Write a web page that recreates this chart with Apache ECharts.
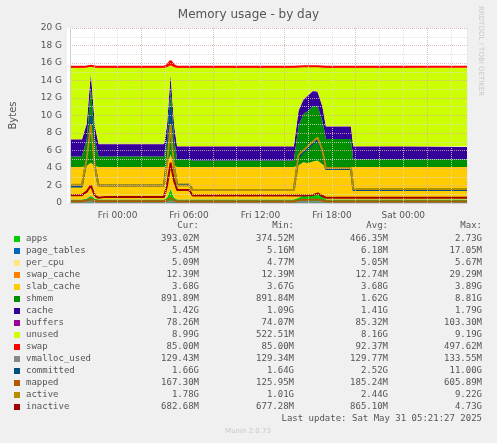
<!DOCTYPE html>
<html>
<head>
<meta charset="utf-8">
<script src="https://cdn.jsdelivr.net/npm/echarts@6/dist/echarts.min.js"></script>
<style>
  html, body { margin: 0; padding: 0; background: #f0f0f0; }
  #chart { width: 497px; height: 443px; }
</style>
</head>
<body>
<div id="chart"></div>
<script>
// hours since Thu 29 May 00:00
var hours = [20, 21.0, 21.4, 21.75, 22.1, 22.4, 23, 27.9, 28.15, 28.45, 28.75, 29.0, 29.5, 30, 30.3, 36, 38.8, 39.2, 39.6, 40, 40.4, 40.8, 41.2, 41.5, 41.7, 43.6, 43.8, 48, 53.35];

// stacked areas, in G
var apps       = [0.4, 0.4, 0.5, 0.8, 0.5, 0.4, 0.4, 0.4, 0.6, 1.6, 0.6, 0.4, 0.4, 0.4, 0.4, 0.4, 0.4, 0.6, 0.9, 0.8, 1.0, 1.1, 0.7, 0.4, 0.4, 0.4, 0.4, 0.4, 0.4];
var pageTables = [0.005, 0.005, 0.005, 0.017, 0.005, 0.005, 0.005, 0.005, 0.008, 0.017, 0.008, 0.005, 0.005, 0.005, 0.005, 0.005, 0.005, 0.008, 0.01, 0.01, 0.01, 0.01, 0.008, 0.005, 0.005, 0.005, 0.005, 0.005, 0.005];
var perCpu     = [0.005, 0.005, 0.005, 0.005, 0.005, 0.005, 0.005, 0.005, 0.005, 0.005, 0.005, 0.005, 0.005, 0.005, 0.005, 0.005, 0.005, 0.005, 0.005, 0.005, 0.005, 0.005, 0.005, 0.005, 0.005, 0.005, 0.005, 0.005, 0.005];
var swapCache  = [0.012, 0.012, 0.012, 0.029, 0.012, 0.012, 0.012, 0.012, 0.015, 0.029, 0.015, 0.012, 0.012, 0.012, 0.012, 0.012, 0.012, 0.012, 0.012, 0.012, 0.012, 0.012, 0.012, 0.012, 0.012, 0.012, 0.012, 0.012, 0.012];
var slabCache  = [3.68, 3.68, 3.7, 3.75, 3.7, 3.68, 3.68, 3.68, 3.7, 3.89, 3.7, 3.68, 3.68, 3.68, 3.68, 3.68, 3.68, 3.7, 3.72, 3.72, 3.72, 3.72, 3.7, 3.68, 3.68, 3.68, 3.68, 3.68, 3.68];
var shmem      = [1.2, 1.2, 3.0, 8.5, 3.0, 1.2, 1.2, 1.2, 3.0, 7.5, 3.0, 0.9, 0.9, 0.9, 0.75, 0.75, 0.75, 4.5, 5.5, 6.0, 6.3, 6.2, 5.0, 3.2, 3.2, 3.2, 0.9, 0.9, 0.9];
var cache      = [1.9, 1.9, 1.8, 1.7, 1.5, 1.4, 1.4, 1.4, 1.5, 1.6, 1.5, 1.4, 1.4, 1.4, 1.55, 1.55, 1.55, 1.7, 1.6, 1.7, 1.7, 1.6, 1.6, 1.4, 1.4, 1.4, 1.4, 1.4, 1.4];
var buffers    = [0.08, 0.08, 0.09, 0.1, 0.09, 0.08, 0.08, 0.08, 0.09, 0.1, 0.09, 0.08, 0.08, 0.08, 0.08, 0.08, 0.08, 0.09, 0.09, 0.09, 0.09, 0.09, 0.09, 0.08, 0.08, 0.08, 0.08, 0.08, 0.08];
var unused     = [8.2, 8.2, 6.4, 0.7, 6.7, 8.7, 8.7, 8.7, 6.6, 1.0, 6.6, 9.0, 9.0, 9.0, 9.0, 9.0, 9.0, 4.9, 3.7, 3.2, 2.7, 2.8, 4.4, 6.7, 6.7, 6.7, 9.0, 9.0, 9.0];
var swap       = [0.085, 0.085, 0.085, 0.085, 0.085, 0.085, 0.085, 0.085, 0.2, 0.5, 0.2, 0.085, 0.085, 0.085, 0.085, 0.085, 0.085, 0.085, 0.085, 0.085, 0.085, 0.085, 0.085, 0.085, 0.085, 0.085, 0.085, 0.085, 0.085];

// lines
var vmallocUsed = [0.13, 0.13, 0.13, 0.13, 0.13, 0.13, 0.13, 0.13, 0.13, 0.13, 0.13, 0.13, 0.13, 0.13, 0.13, 0.13, 0.13, 0.13, 0.13, 0.13, 0.13, 0.13, 0.13, 0.13, 0.13, 0.13, 0.13, 0.13, 0.13];
var committed   = [1.9, 1.9, 5, 10, 4, 2.0, 2.0, 2.0, 5, 11, 4, 2.1, 2.1, 2.1, 1.5, 1.5, 1.5, 5.2, 5.8, 6.2, 6.8, 7.2, 5.8, 3.9, 3.9, 3.9, 1.5, 1.5, 1.5];
var mapped      = [0.2, 0.2, 0.3, 0.45, 0.25, 0.2, 0.2, 0.2, 0.3, 0.6, 0.3, 0.18, 0.18, 0.18, 0.17, 0.17, 0.17, 0.3, 0.4, 0.35, 0.4, 0.4, 0.3, 0.17, 0.17, 0.17, 0.17, 0.17, 0.17];
var active      = [2.1, 2.1, 5, 9, 4, 2.0, 2.0, 2.0, 4.5, 9, 4, 2.0, 2.0, 2.0, 1.5, 1.5, 1.5, 5.5, 6, 6.5, 7, 7.5, 6, 4.0, 4.0, 4.0, 1.6, 1.6, 1.6];
var inactive    = [0.9, 0.9, 1.3, 2.0, 0.8, 0.6, 0.7, 0.7, 2.0, 4.6, 2.5, 1.5, 1.5, 1.5, 0.85, 0.85, 0.85, 0.85, 0.85, 0.85, 0.9, 1.1, 0.8, 0.6, 0.6, 0.6, 0.6, 0.6, 0.6];

var yTicks = [0, 2, 4, 6, 8, 10, 12, 14, 16, 18, 20];
var dayLabels = { 24: 'Fri 00:00', 30: 'Fri 06:00', 36: 'Fri 12:00', 42: 'Fri 18:00', 48: 'Sat 00:00' };

var legendRows = [
  ['apps', '#00cc00', '393.02M', '374.52M', '466.35M', '2.73G'],
  ['page_tables', '#0066b3', '5.45M', '5.16M', '6.18M', '17.05M'],
  ['per_cpu', '#ffe680', '5.09M', '4.77M', '5.05M', '5.67M'],
  ['swap_cache', '#ff8000', '12.39M', '12.39M', '12.74M', '29.29M'],
  ['slab_cache', '#ffcc00', '3.68G', '3.67G', '3.68G', '3.89G'],
  ['shmem', '#008f00', '891.89M', '891.84M', '1.62G', '8.81G'],
  ['cache', '#330099', '1.42G', '1.09G', '1.41G', '1.79G'],
  ['buffers', '#990099', '78.26M', '74.07M', '85.32M', '103.30M'],
  ['unused', '#ccff00', '8.99G', '522.51M', '8.16G', '9.19G'],
  ['swap', '#ff0000', '85.00M', '85.00M', '92.37M', '497.62M'],
  ['vmalloc_used', '#888888', '129.43M', '129.34M', '129.77M', '133.55M'],
  ['committed', '#004d80', '1.66G', '1.64G', '2.52G', '11.00G'],
  ['mapped', '#b35a00', '167.30M', '125.95M', '185.24M', '605.89M'],
  ['active', '#b38f00', '1.78G', '1.01G', '2.44G', '9.22G'],
  ['inactive', '#a00000', '682.68M', '677.28M', '865.10M', '4.73G']
];

var colorOf = {};
legendRows.forEach(function (r) { colorOf[r[0]] = r[1]; });

var areas = [
  ['apps', apps], ['page_tables', pageTables], ['per_cpu', perCpu], ['swap_cache', swapCache],
  ['slab_cache', slabCache], ['shmem', shmem], ['cache', cache], ['buffers', buffers],
  ['unused', unused], ['swap', swap]
];
var lines = [
  ['vmalloc_used', vmallocUsed], ['committed', committed], ['mapped', mapped],
  ['active', active], ['inactive', inactive]
];

var T0 = Date.UTC(2025, 4, 29);
function pairs(arr) {
  return hours.map(function (h, i) { return [T0 + h * 3600000, arr[i]]; });
}

var series = [];
areas.forEach(function (a) {
  series.push({
    name: a[0], type: 'line', stack: 'mem', data: pairs(a[1]), symbol: 'none',
    lineStyle: { width: a[0] === 'swap' ? 2 : 0, color: colorOf[a[0]] },
    areaStyle: { color: colorOf[a[0]], opacity: 1 },
    itemStyle: { color: colorOf[a[0]] }, z: 2
  });
});
lines.forEach(function (l) {
  series.push({
    name: l[0], type: 'line', data: pairs(l[1]), symbol: 'none',
    lineStyle: { width: 2, color: colorOf[l[0]] }, itemStyle: { color: colorOf[l[0]] }, z: 3
  });
});

var mono = 'DejaVu Sans Mono';
var graphics = [];
var rowTop = 234, rowH = 12;
['Cur:', 'Min:', 'Avg:', 'Max:'].forEach(function (h, i) {
  graphics.push({ type: 'text', x: [199, 294, 388, 482][i], y: 221,
    style: { text: h, font: '9px ' + mono, fill: '#555', align: 'right' } });
});
legendRows.forEach(function (r, i) {
  var y = rowTop + i * rowH;
  graphics.push({ type: 'rect', shape: { x: 14, y: y + 2, width: 6, height: 6 }, style: { fill: r[1] } });
  graphics.push({ type: 'text', x: 26, y: y, style: { text: r[0], font: '9px ' + mono, fill: '#555' } });
  [199, 294, 388, 482].forEach(function (xr, j) {
    graphics.push({ type: 'text', x: xr, y: y, style: { text: r[2 + j], font: '9px ' + mono, fill: '#555', align: 'right' } });
  });
});
graphics.push({ type: 'text', x: 482, y: rowTop + 15 * rowH, style: { text: 'Last update: Sat May 31 05:21:27 2025', font: '9px ' + mono, fill: '#555', align: 'right' } });
graphics.push({ type: 'text', x: 248, y: rowTop + 16 * rowH + 2, style: { text: 'Munin 2.0.73', font: '7px DejaVu Sans', fill: '#c8c8c8', align: 'center' } });
graphics.push({ type: 'text', x: 484, y: 6, rotation: -Math.PI / 2, style: { text: 'RRDTOOL / TOBI OETIKER', font: '7px DejaVu Sans', fill: '#c8c8c8' } });
graphics.push({ type: 'rect', shape: { x: 67, y: 28, width: 400, height: 175 }, style: { fill: '#ffffff' }, z: -10 });

var chart = echarts.init(document.getElementById('chart'), null, { renderer: 'canvas' });
chart.setOption({
  backgroundColor: '#f0f0f0',
  animation: false,
  useUTC: true,
  title: {
    text: 'Memory usage - by day', left: 'center', top: 4,
    textStyle: { color: '#555', fontSize: 12, fontWeight: 'normal', fontFamily: 'DejaVu Sans' }
  },
  grid: { left: 67, right: 30, top: 28, bottom: 240 },
  xAxis: [{
    type: 'time', min: T0 + 20 * 3600000, max: T0 + 53.35 * 3600000,
    axisLine: { show: false }, axisTick: { show: false }, axisLabel: { show: false }, splitLine: { show: false }
  }, {
    // hours since Thu 00:00, used for grid and labels
    type: 'value', min: 20, max: 53.35, interval: 2, z: 10,
    position: 'bottom',
    axisLine: { lineStyle: { color: '#ccd' } },
    axisTick: { show: false },
    axisLabel: {
      color: '#555', fontSize: 9, fontFamily: 'DejaVu Sans', showMinLabel: false, showMaxLabel: false,
      formatter: function (v) { return dayLabels[v] || ''; }
    },
    splitLine: { show: true, lineStyle: { type: 'dotted', width: 1, color: ['#ddaaaa', '#dddddd', '#dddddd'], opacity: 0.8 } }
  }],
  yAxis: {
    type: 'value', min: 0, max: 20, interval: 1, z: 10,
    name: 'Bytes', nameLocation: 'middle', nameGap: 52, nameRotate: 90,
    nameTextStyle: { color: '#555', fontSize: 10, fontFamily: 'DejaVu Sans' },
    axisLine: { show: true, lineStyle: { color: '#ccd' } },
    axisTick: { show: false },
    axisLabel: {
      color: '#555', fontSize: 9, fontFamily: 'DejaVu Sans',
      formatter: function (v) { return yTicks.indexOf(v) < 0 ? '' : (v === 0 ? '0' : v + ' G'); }
    },
    splitLine: { lineStyle: { type: 'dotted', width: 1, color: ['#ddaaaa', '#dddddd'], opacity: 0.8 } }
  },
  series: series,
  graphic: graphics
});
</script>
</body>
</html>
